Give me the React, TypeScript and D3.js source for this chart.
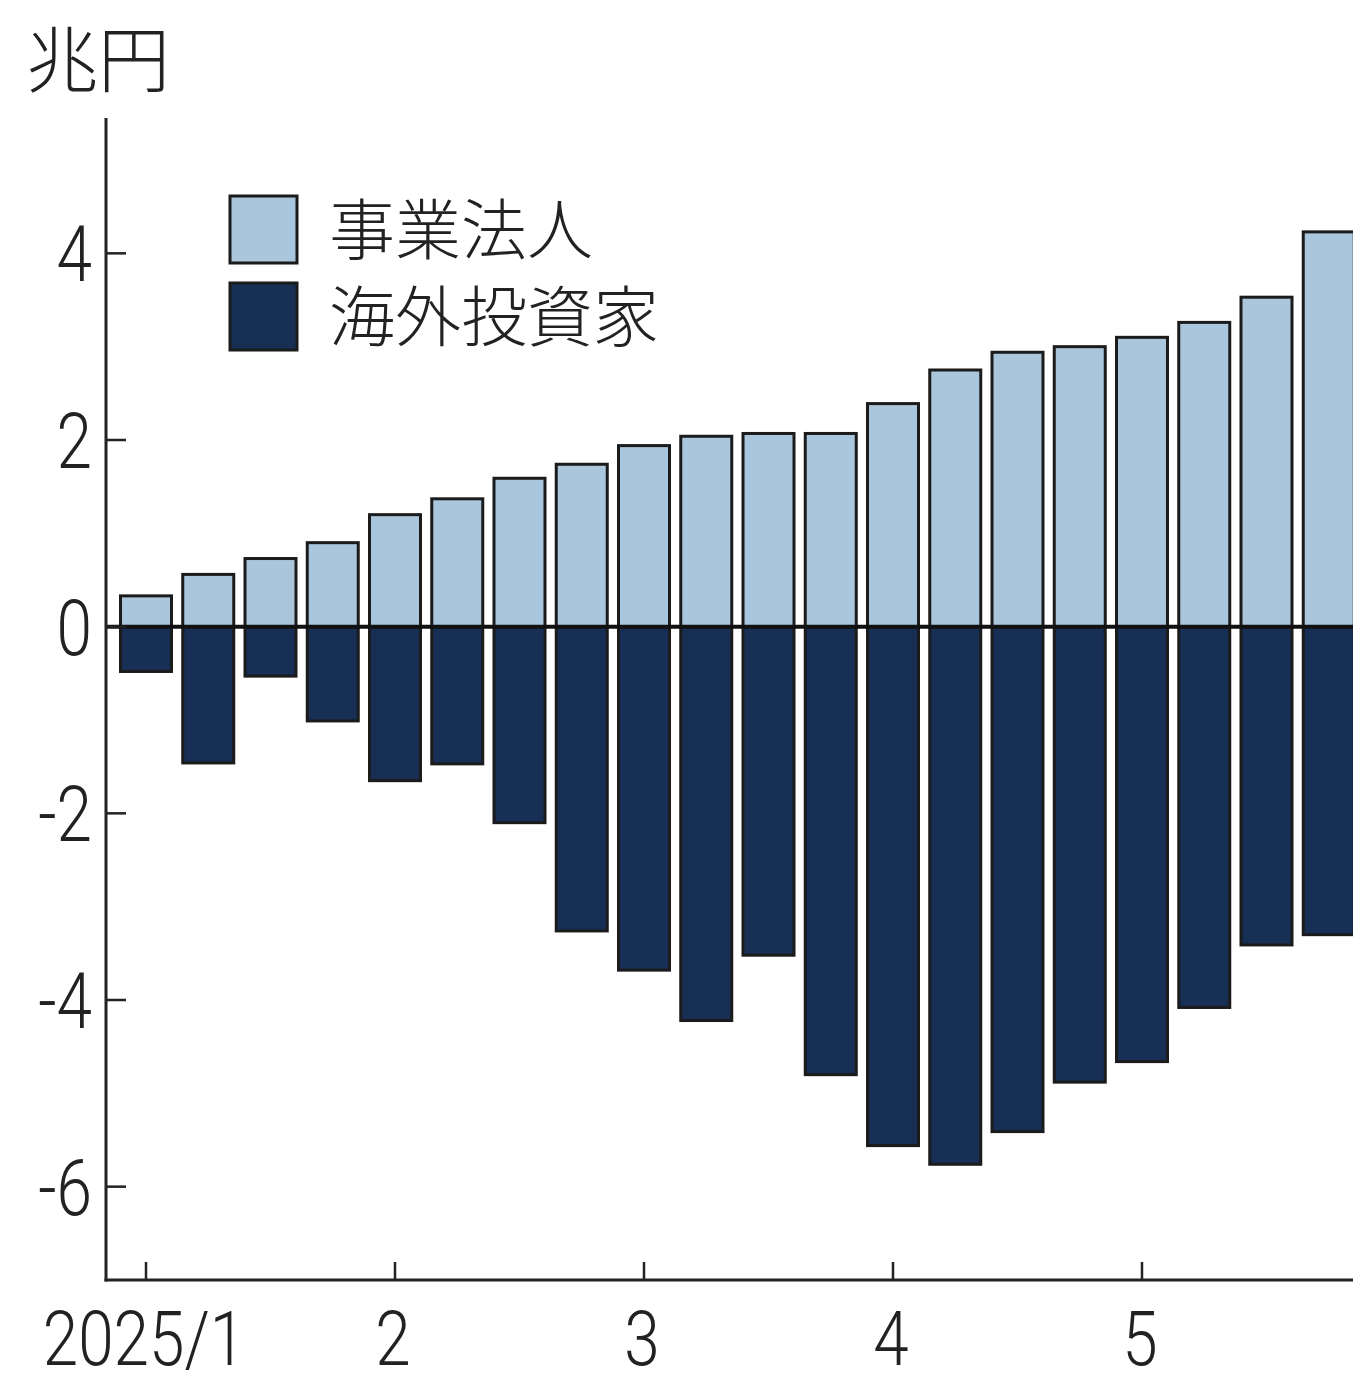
import React from "react";
import * as d3 from "d3";

const weeks: number[] = Array.from({ length: 20 }, (_, i) => i);
const corporates: number[] = [0.33, 0.56, 0.73, 0.9, 1.2, 1.37, 1.59, 1.74, 1.94, 2.04, 2.07, 2.07, 2.39, 2.75, 2.94, 3.0, 3.1, 3.26, 3.53, 4.23];
const foreigners: number[] = [-0.48, -1.46, -0.53, -1.01, -1.65, -1.47, -2.1, -3.26, -3.68, -4.22, -3.52, -4.8, -5.56, -5.76, -5.41, -4.88, -4.66, -4.08, -3.41, -3.3];
const yTicks: number[] = [-6, -4, -2, 0, 2, 4];
const xTickIdx: number[] = [0, 4, 8, 12, 16];
const xTickLabels: string[] = ["2025/1", "2", "3", "4", "5"];
const seriesNames: string[] = ["事業法人", "海外投資家"];
const colors: string[] = ["#aac6dc", "#172f55"];

const W = 1353;
const H = 1386;
const axisX = 106;
const axisBottom = 1280;
const axisTop = 118;

export default function App() {
  const y = d3.scaleLinear().domain([-7, 5.45]).range([axisBottom, axisTop]);
  const x = d3.scaleLinear().domain([0, 19]).range([146, 146 + 19 * 62.25]);
  const bw = 51;
  const numFont = "Roboto, 'Liberation Sans', sans-serif";
  const jpFont = "'Noto Sans CJK JP', 'Noto Sans', sans-serif";
  const stroke = "#1b1b1b";
  return (
    <svg width={W} height={H} style={{ position: "absolute", left: 0, top: 0, background: "#fff" }}>
      <rect x={0} y={0} width={W} height={H} fill="#fff" />
      <text x={26} y={86} fontFamily={jpFont} fontWeight={300} fontSize={72} fill="#222">兆円</text>
      {/* bars */}
      {weeks.map((i) => (
        <g key={i}>
          <rect x={x(i) - bw / 2} y={y(corporates[i])} width={bw} height={y(0) - y(corporates[i])}
            fill={colors[0]} stroke={stroke} strokeWidth={3} />
          <rect x={x(i) - bw / 2} y={y(0)} width={bw} height={y(foreigners[i]) - y(0)}
            fill={colors[1]} stroke={stroke} strokeWidth={3} />
        </g>
      ))}
      {/* zero line */}
      <line x1={axisX} x2={W} y1={y(0)} y2={y(0)} stroke="#111" strokeWidth={4} />
      {/* axes */}
      <line x1={axisX} x2={axisX} y1={axisTop} y2={axisBottom + 1.5} stroke="#222" strokeWidth={3} />
      <line x1={axisX - 1.5} x2={W} y1={axisBottom} y2={axisBottom} stroke="#222" strokeWidth={3} />
      {yTicks.map((t) => (
        <g key={t}>
          <line x1={axisX} x2={axisX + 20} y1={y(t)} y2={y(t)} stroke="#222" strokeWidth={2.5} />
          <text transform={`translate(${92},${y(t) + 28}) scale(0.82,1)`} textAnchor="end"
            fontFamily={numFont} fontWeight={300} fontSize={78} fill="#222">{t}</text>
        </g>
      ))}
      {xTickIdx.map((idx, k) => (
        <g key={idx}>
          <line x1={x(idx)} x2={x(idx)} y1={axisBottom} y2={axisBottom - 18} stroke="#222" strokeWidth={2.5} />
          <text transform={`translate(${x(idx) - 2},${1365}) scale(0.84,1)`} textAnchor="middle"
            fontFamily={numFont} fontWeight={300} fontSize={76} fill="#222">{xTickLabels[k]}</text>
        </g>
      ))}
      {/* legend */}
      {seriesNames.map((name, k) => (
        <g key={name}>
          <rect x={230} y={196 + k * 87} width={67} height={67} fill={colors[k]} stroke={stroke} strokeWidth={3} />
          <text x={329} y={254 + k * 87} fontFamily={jpFont} fontWeight={300} fontSize={66} fill="#222">{name}</text>
        </g>
      ))}
    </svg>
  );
}
